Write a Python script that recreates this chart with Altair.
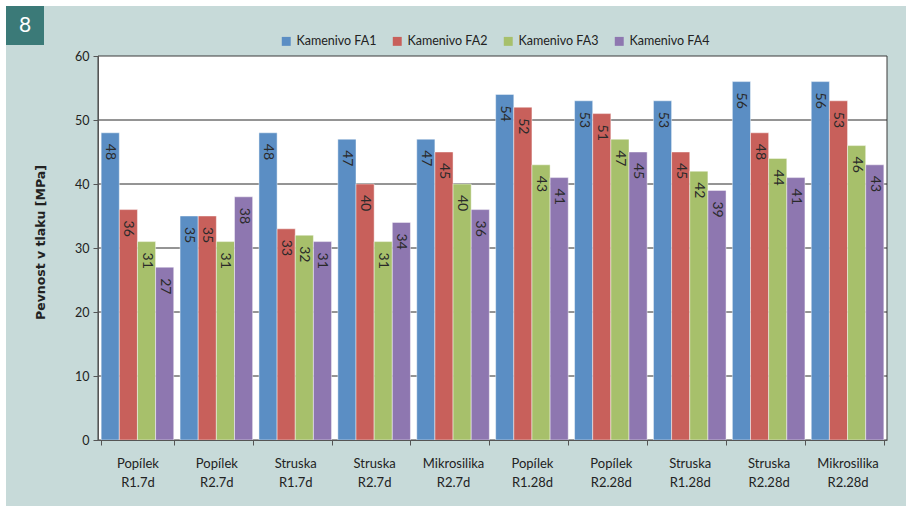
import altair as alt
import pandas as pd

categories = ["Popílek|R1.7d", "Popílek|R2.7d", "Struska|R1.7d", "Struska|R2.7d",
              "Mikrosilika|R2.7d", "Popílek|R1.28d", "Popílek|R2.28d",
              "Struska|R1.28d", "Struska|R2.28d", "Mikrosilika|R2.28d"]
series_names = ["Kamenivo FA1", "Kamenivo FA2", "Kamenivo FA3", "Kamenivo FA4"]
fa1 = [48, 35, 48, 47, 47, 54, 53, 53, 56, 56]
fa2 = [36, 35, 33, 40, 45, 52, 51, 45, 48, 53]
fa3 = [31, 31, 32, 31, 40, 43, 47, 42, 44, 46]
fa4 = [27, 38, 31, 34, 36, 41, 45, 39, 41, 43]
colors = ["#5b8ec4", "#c8605b", "#a7c06b", "#8e77b0"]
grid_values = [10, 20, 30, 40, 50]
y_title = "Pevnost v tlaku [MPa]"
badge = "8"

FONT = "Lato"
W, H = 789, 384

rows = []
for s, vals in zip(series_names, [fa1, fa2, fa3, fa4]):
    for c, v in zip(categories, vals):
        rows.append({"cat": c, "series": s, "value": v})
df = pd.DataFrame(rows)

one = pd.DataFrame({"a": [0]})

panel = alt.Chart(one).mark_rect(fill="#c7dad9").encode(
    x=alt.value(-92), x2=alt.value(808), y=alt.value(-50), y2=alt.value(450))
plot_bg = alt.Chart(one).mark_rect(fill="white", stroke="#3a3a3a", strokeWidth=1).encode(
    x=alt.value(0), x2=alt.value(W), y=alt.value(0), y2=alt.value(H))
badge_box = alt.Chart(one).mark_rect(fill="#3b7a78").encode(
    x=alt.value(-92), x2=alt.value(-54), y=alt.value(-50), y2=alt.value(-11))
badge_text = alt.Chart(pd.DataFrame({"t": [badge]})).mark_text(
    font=FONT, fontSize=21, color="white", align="center", baseline="middle").encode(
    x=alt.value(-73), y=alt.value(-30), text="t:N")

ysc = alt.Scale(domain=[0, 60], nice=False, zero=True)

grid = alt.Chart(pd.DataFrame({"v": grid_values})).mark_rule(color="#2a2a2a", strokeWidth=1).encode(
    y=alt.Y("v:Q", scale=ysc))

xenc = alt.X("cat:N", sort=categories,
             scale=alt.Scale(paddingInner=0.08, paddingOuter=0.04),
             axis=alt.Axis(title=None, labelExpr="split(datum.label, '|')", tickBand="extent",
                           labelAngle=0, labelFont=FONT, labelFontSize=13, labelColor="#222",
                           labelLineHeight=19, labelPadding=12, tickSize=5, tickColor="#555",
                           domainColor="#555", grid=False, zindex=1, labelBaseline="top"))
xoff = alt.XOffset("series:N", sort=series_names, scale=alt.Scale(paddingInner=0, paddingOuter=0))
yenc = alt.Y("value:Q", scale=ysc,
             axis=alt.Axis(title=y_title, values=[0, 10, 20, 30, 40, 50, 60], grid=False,
                           labelFont=FONT, labelFontSize=12.5, labelColor="#222", tickSize=5,
                           tickColor="#555", domainColor="#555", labelPadding=4,
                           titleFont="DejaVu Sans", titleFontSize=12.5, titleFontWeight="bold",
                           titleColor="#222", titleX=-58, titleY=186, titleAngle=-90,
                           titleAlign="center", titleBaseline="middle", zindex=1))

bars = alt.Chart(df).mark_bar(stroke="white", strokeOpacity=0.45, strokeWidth=1).encode(
    x=xenc, xOffset=xoff, y=yenc,
    color=alt.Color("series:N", sort=series_names,
                    scale=alt.Scale(domain=series_names, range=colors),
                    legend=alt.Legend(title=None, orient="none", direction="horizontal",
                                      legendX=182, legendY=-21, symbolType="square",
                                      symbolSize=80, symbolStrokeWidth=0, labelFont=FONT,
                                      labelFontSize=12.5, labelColor="#222", columnPadding=14,
                                      symbolOffset=0, labelOffset=4, zindex=1)))

labels = alt.Chart(df).mark_text(angle=90, align="left", baseline="middle", dx=11,
                                 font=FONT, fontSize=14, color="#2a2a2a").encode(
    x=alt.X("cat:N", sort=categories), xOffset=xoff, y=alt.Y("value:Q", scale=ysc),
    text="value:Q")

chart = alt.layer(panel, plot_bg, badge_box, badge_text, grid, bars, labels).properties(
    width=W, height=H,
    autosize=alt.AutoSizeParams(type="none"),
    padding={"left": 98, "top": 56, "right": 22, "bottom": 73},
).configure(background="white").configure_view(stroke=None)

chart.save("out.html", embed_options={"renderer": "svg", "actions": False})
